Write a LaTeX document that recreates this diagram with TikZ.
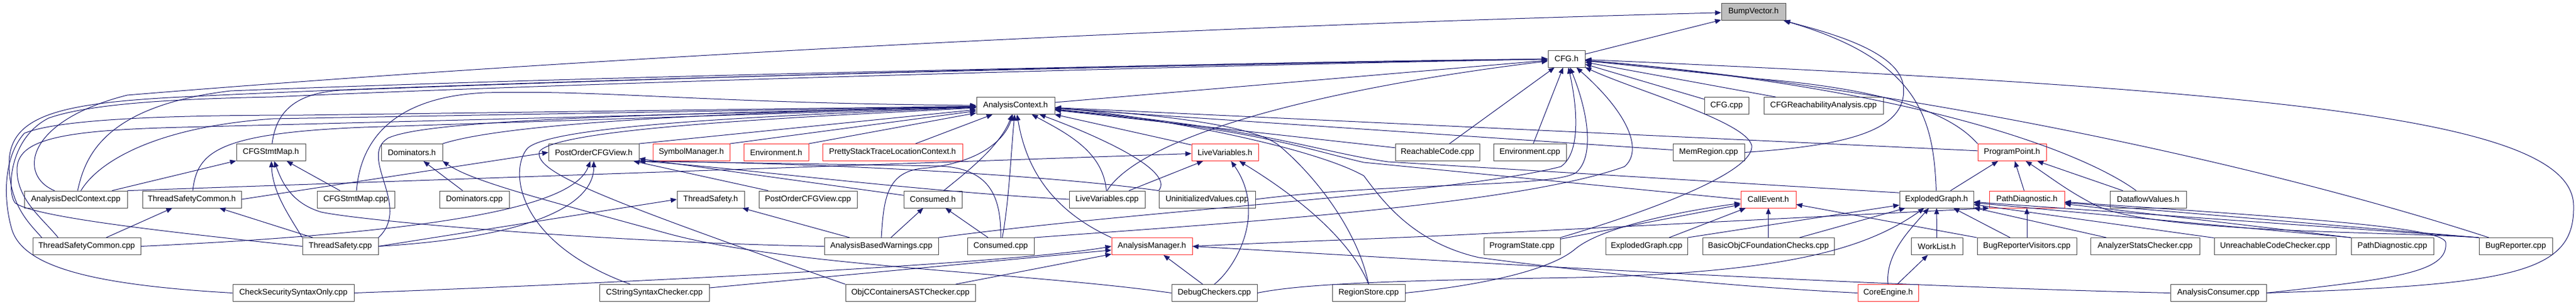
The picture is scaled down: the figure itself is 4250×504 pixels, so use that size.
\documentclass[tikz,border=0pt]{standalone}
\usepackage{fontspec}
\setmainfont{Liberation Sans}
\usetikzlibrary{arrows.meta,shadows}
\definecolor{eblue}{HTML}{191970}
\definecolor{nred}{HTML}{FF2A2A}
\tikzset{
  nb/.style={draw=black!70, fill=white, line width=0.6pt, inner sep=0pt, minimum height=21pt,
    font=\fontsize{10}{12}\selectfont,
    general shadow={fill=black, shadow xshift=0.7pt, shadow yshift=-0.7pt}},
  nr/.style={nb, draw=nred, general shadow={fill=nred!85!black, shadow xshift=0.7pt, shadow yshift=-0.7pt}},
  ng/.style={nb, fill=black!25},
  edg/.style={draw=eblue, line width=0.75pt, -{Triangle[length=7.5pt,width=6pt]}},
}
\newcommand\nd[6]{\node[#1,minimum width={#5*0.75pt}] (#2) at (#3,#4) {#6};}
\begin{document}
\begin{tikzpicture}[x=0.75pt,y=-0.75pt]
\fill[white] (0,0) rectangle (4250,504);
\useasboundingbox (0,0) rectangle (4250,504);
% row 0,1,2
\nd{ng}{bv}{2893}{19.5}{106}{BumpVector.h}
\nd{nb}{cfgh}{2584.5}{97}{61}{CFG.h}
\nd{nb}{ac}{1675.5}{174.5}{129}{AnalysisContext.h}
\nd{nb}{cfgcpp}{2848.5}{174.5}{73}{CFG.cpp}
\nd{nb}{cfgra}{3008.5}{174.5}{197}{CFGReachabilityAnalysis.cpp}
% row 3
\nd{nb}{csmh}{447}{251.5}{114}{CFGStmtMap.h}
\nd{nb}{domh}{679.5}{251.5}{101}{Dominators.h}
\nd{nb}{pocvh}{979.5}{251.5}{149}{PostOrderCFGView.h}
\nd{nr}{symh}{1140.5}{251.5}{127}{SymbolManager.h}
\nd{nr}{envh}{1280.5}{251.5}{107}{Environment.h}
\nd{nr}{pstlc}{1472.5}{251.5}{231}{PrettyStackTraceLocationContext.h}
\nd{nr}{lvh}{2021}{251.5}{110}{LiveVariables.h}
\nd{nb}{rc}{2371.5}{251.5}{139}{ReachableCode.cpp}
\nd{nb}{envcpp}{2524}{251.5}{120}{Environment.cpp}
\nd{nb}{mr}{2819}{251.5}{118}{MemRegion.cpp}
\nd{nr}{pph}{3319.5}{251.5}{113}{ProgramPoint.h}
% row 4
\nd{nb}{adc}{125}{329}{170}{AnalysisDeclContext.cpp}
\nd{nb}{tsch}{316.5}{329}{163}{ThreadSafetyCommon.h}
\nd{nb}{csmcpp}{587}{329}{128}{CFGStmtMap.cpp}
\nd{nb}{domcpp}{782.5}{329}{115}{Dominators.cpp}
\nd{nb}{tsh}{1172.5}{329}{111}{ThreadSafety.h}
\nd{nb}{pocvcpp}{1333}{329}{162}{PostOrderCFGView.cpp}
\nd{nb}{consh}{1539}{329}{96}{Consumed.h}
\nd{nb}{lvcpp}{1826.5}{329}{125}{LiveVariables.cpp}
\nd{nb}{uvcpp}{1991.5}{329}{159}{UninitializedValues.cpp}
\nd{nr}{ceh}{2917.5}{329}{91}{CallEvent.h}
\nd{nb}{egh}{3195}{329}{122}{ExplodedGraph.h}
\nd{nr}{pdh}{3344}{329}{124}{PathDiagnostic.h}
\nd{nb}{dfvh}{3544}{329}{126}{DataflowValues.h}
% row 5
\nd{nb}{tsccpp}{143}{406.5}{178}{ThreadSafetyCommon.cpp}
\nd{nb}{tscpp}{561.5}{406.5}{125}{ThreadSafety.cpp}
\nd{nb}{abw}{1454}{406.5}{188}{AnalysisBasedWarnings.cpp}
\nd{nb}{conscpp}{1651}{406.5}{110}{Consumed.cpp}
\nd{nr}{amh}{1900.5}{406.5}{133}{AnalysisManager.h}
\nd{nb}{pscpp}{2511}{406.5}{126}{ProgramState.cpp}
\nd{nb}{egcpp}{2716.5}{406.5}{135}{ExplodedGraph.cpp}
\nd{nb}{bofc}{2917.5}{406.5}{217}{BasicObjCFoundationChecks.cpp}
\nd{nb}{wlh}{3195.5}{406.5}{85}{WorkList.h}
\nd{nb}{brv}{3344}{406.5}{164}{BugReporterVisitors.cpp}
\nd{nb}{asc}{3539}{406.5}{180}{AnalyzerStatsChecker.cpp}
\nd{nb}{ucc}{3753.5}{406.5}{201}{UnreachableCodeChecker.cpp}
\nd{nb}{pdcpp}{3947}{406.5}{136}{PathDiagnostic.cpp}
\nd{nb}{brcpp}{4150.5}{406.5}{121}{BugReporter.cpp}
% row 6
\nd{nb}{csso}{484}{483.5}{200}{CheckSecuritySyntaxOnly.cpp}
\nd{nb}{cssc}{1079.5}{483.5}{181}{CStringSyntaxChecker.cpp}
\nd{nb}{objc}{1502}{483.5}{214}{ObjCContainersASTChecker.cpp}
\nd{nb}{dbg}{2003.5}{483.5}{141}{DebugCheckers.cpp}
\nd{nb}{rs}{2258}{483.5}{120}{RegionStore.cpp}
\nd{nr}{ceng}{3115}{483.5}{100}{CoreEngine.h}
\nd{nb}{acons}{3660}{483.5}{158}{AnalysisConsumer.cpp}

% ---- BumpVector.h
\draw[edg] (cfgh) -- (bv);
\draw[edg] (adc) .. controls (30,290) and (40,200) .. (210,157) .. controls (900,100) and (1900,45) .. (bv);
\draw[edg] (mr.east) .. controls (3050,240) and (3150,215) .. (3140,140) .. controls (3130,80) and (3000,50) .. (bv);
\draw[edg] (egh) .. controls (3190,200) and (3170,100) .. (bv);
% ---- CFG.h
\draw[edg] (ac) -- (cfgh);
\draw[edg] (adc) .. controls (140,260) and (170,175) .. (380,150) .. controls (1000,125) and (2000,105) .. (cfgh);
\draw[edg] (csmh) .. controls (455,190) and (480,155) .. (560,149) .. controls (1200,125) and (2000,103) .. (cfgh);
\draw[edg] (tsccpp.169) .. controls (50,370) and (15,340) .. (15,270) .. controls (15,190) and (100,170) .. (300,160) .. controls (900,130) and (2000,106) .. (cfgh);
\draw[edg] (tscpp.west) .. controls (300,385) and (60,360) .. (25,335) .. controls (12,320) and (12,230) .. (80,195) .. controls (150,170) and (300,163) .. (450,160) .. controls (1000,135) and (2000,108) .. (cfgh);
\draw[edg] (lvcpp.north) .. controls (1880,230) and (2150,150) .. (cfgh);
\draw[edg] (uvcpp.east) .. controls (2300,300) and (2560,310) .. (2600,285) .. controls (2630,260) and (2622,190) .. (cfgh);
\draw[edg] (abw.north east) .. controls (1900,345) and (2400,320) .. (2575,275) .. controls (2605,255) and (2605,190) .. (cfgh);
\draw[edg] (conscpp.north east) .. controls (2000,370) and (2500,340) .. (2680,275) .. controls (2710,250) and (2690,190) .. (cfgh);
\draw[edg] (pscpp.north east) .. controls (2750,340) and (2895,280) .. (2890,240) .. controls (2880,200) and (2700,150) .. (cfgh);
\draw[edg] (rc) -- (cfgh);
\draw[edg] (envcpp) -- (cfgh);
\draw[edg] (cfgcpp) -- (cfgh);
\draw[edg] (cfgra) -- (cfgh);
\draw[edg] (pph.north west) .. controls (3230,200) and (3150,150) .. (2900,130) -- (cfgh);
\draw[edg] (dfvh) .. controls (3450,260) and (3200,150) .. (cfgh);
\draw[edg] (brcpp) .. controls (3700,260) and (3100,140) .. (cfgh);
\draw[edg] (acons.east) .. controls (4150,470) and (4248,450) .. (4246,340) .. controls (4245,200) and (3800,150) .. (cfgh);
% ---- AnalysisContext.h
\draw[edg] (adc) .. controls (160,270) and (250,210) .. (450,196) -- (ac);
\draw[edg] (tsch) .. controls (325,250) and (360,220) .. (600,210) -- (ac);
\draw[edg] (tsccpp.163) .. controls (70,360) and (28,330) .. (28,280) .. controls (28,230) and (100,215) .. (300,210) -- (ac);
\draw[edg] (tscpp.north east) .. controls (680,340) and (590,260) .. (640,228) .. controls (700,200) and (1000,190) .. (ac);
\draw[edg] (csso.west) .. controls (150,470) and (40,440) .. (20,380) .. controls (5,330) and (5,260) .. (40,220) .. controls (100,195) and (300,190) .. (500,190) -- (ac);
\draw[edg] (csmcpp) .. controls (595,230) and (650,160) .. (800,153) .. controls (1000,148) and (1150,170) .. (ac);
\draw[edg] (domh.north east) .. controls (800,215) and (1000,190) .. (ac);
\draw[edg] (pocvh.north east) -- (ac);
\draw[edg] (symh.north east) -- (ac);
\draw[edg] (envh.north east) -- (ac);
\draw[edg] (pstlc) -- (ac);
\draw[edg] (cssc) .. controls (850,400) and (840,280) .. (870,245) .. controls (910,205) and (1300,190) .. (ac);
\draw[edg] (objc.north west) .. controls (1000,330) and (880,285) .. (890,250) .. controls (920,210) and (1350,192) .. (ac);
\draw[edg] (consh) .. controls (1600,280) and (1650,240) .. (ac);
\draw[edg] (conscpp) .. controls (1665,330) and (1668,250) .. (ac);
\draw[edg] (abw.north) .. controls (1458,330) and (1462,285) .. (1520,278) .. controls (1600,272) and (1655,240) .. (ac);
\draw[edg] (amh.north west) .. controls (1720,340) and (1690,260) .. (ac);
\draw[edg] (lvcpp) .. controls (1820,250) and (1760,220) .. (ac);
\draw[edg] (uvcpp.north west) .. controls (1940,280) and (1800,220) .. (ac);
\draw[edg] (lvh) -- (ac);
\draw[edg] (rc) -- (ac);
\draw[edg] (mr) -- (ac);
\draw[edg] (pph) -- (ac);
\draw[edg] (ceh.west) -- (2250,268) .. controls (2150,245) and (2080,215) .. (ac);
\draw[edg] (egh.170) -- (2290,267) .. controls (2170,250) and (2090,212) .. (ac);
\draw[edg] (rs.north) .. controls (2240,380) and (2170,290) .. (2110,240) .. controls (2060,200) and (1850,185) .. (ac);
\draw[edg] (ceng.west) .. controls (2800,470) and (2550,440) .. (2440,425) .. controls (2330,400) and (2280,330) .. (2250,290) .. controls (2150,235) and (1850,185) .. (ac);
% ---- LiveVariables.h
\draw[edg] (adc.north east) -- (lvh);
\draw[edg] (lvcpp) -- (lvh);
\draw[edg] (dbg.north) .. controls (2040,440) and (2090,350) .. (lvh);
\draw[edg] (rs.north) .. controls (2230,400) and (2150,330) .. (lvh);
% ---- CFGStmtMap.h
\draw[edg] (adc) -- (csmh);
\draw[edg] (csmcpp) -- (csmh);
\draw[edg] (tscpp.north west) .. controls (480,360) and (450,320) .. (csmh);
\draw[edg] (abw.west) .. controls (1000,400) and (600,365) .. (530,350) .. controls (480,335) and (465,300) .. (csmh);
% ---- ThreadSafetyCommon.h
\draw[edg] (tsccpp) -- (tsch);
\draw[edg] (tscpp) -- (tsch);
% ---- PostOrderCFGView.h
\draw[edg] (tsch.east) -- (pocvh.west);
\draw[edg] (tsccpp.east) .. controls (800,380) and (950,330) .. (pocvh);
\draw[edg] (tscpp.east) .. controls (900,390) and (980,330) .. (pocvh);
\draw[edg] (pocvcpp) -- (pocvh);
\draw[edg] (consh) -- (pocvh);
\draw[edg] (conscpp.north) .. controls (1652,320) and (1630,278) .. (1550,274) -- (pocvh.south east);
\draw[edg] (lvcpp.west) .. controls (1500,315) and (1200,275) .. (pocvh.south east);
\draw[edg] (uvcpp.north west) .. controls (1700,285) and (1300,268) .. (pocvh.south east);
% ---- Dominators.h
\draw[edg] (domcpp) -- (domh);
\draw[edg] (dbg.west) .. controls (1700,450) and (1300,440) .. (1100,385) .. controls (900,330) and (780,300) .. (domh.south east);
% ---- ThreadSafety.h / Consumed.h
\draw[edg] (tscpp.east) -- (tsh.west);
\draw[edg] (abw) -- (tsh);
\draw[edg] (abw) -- (consh);
\draw[edg] (conscpp) -- (consh);
% ---- AnalysisManager.h
\draw[edg] (csso.east) .. controls (1200,460) and (1700,430) .. (amh.west);
\draw[edg] (cssc) -- (amh);
\draw[edg] (objc) -- (amh);
\draw[edg] (dbg) -- (amh);
\draw[edg] (acons.west) .. controls (3000,470) and (2300,425) .. (amh.east);
% ---- CallEvent.h
\draw[edg] (pscpp) -- (ceh);
\draw[edg] (egcpp) -- (ceh);
\draw[edg] (bofc) -- (ceh);
\draw[edg] (rs.east) .. controls (2450,470) and (2560,445) .. (2600,410) .. controls (2650,370) and (2800,345) .. (ceh);
\draw[edg] (brv.north west) -- (ceh);
% ---- ExplodedGraph.h
\draw[edg] (egcpp.north east) -- (egh);
\draw[edg] (bofc) -- (egh);
\draw[edg] (wlh) -- (egh);
\draw[edg] (ceng.north) .. controls (3110,420) and (3150,380) .. (egh);
\draw[edg] (brv) -- (egh);
\draw[edg] (asc) -- (egh);
\draw[edg] (ucc) -- (egh);
\draw[edg] (pdcpp.north west) -- (egh);
\draw[edg] (brcpp.north west) -- (egh);
\draw[edg] (dbg.east) .. controls (2150,468) and (2300,463) .. (2600,458) .. controls (2950,450) and (3080,410) .. (egh);
% ---- PathDiagnostic.h
\draw[edg] (pdcpp.north west) -- (pdh);
\draw[edg] (brv) -- (pdh);
\draw[edg] (brcpp.north west) -- (pdh);
\draw[edg] (acons.east) .. controls (3950,460) and (4040,450) .. (4035,400) .. controls (4030,375) and (3800,360) .. (pdh);
\draw[edg] (amh.east) .. controls (2100,400) and (2250,395) .. (2400,388) -- (pdh.south west);
% ---- ProgramPoint.h
\draw[edg] (egh) -- (pph);
\draw[edg] (pdh) -- (pph);
\draw[edg] (dfvh) -- (pph);
\draw[edg] (brcpp.north west) .. controls (3950,382) and (3560,385) .. (3460,340) .. controls (3410,315) and (3380,290) .. (pph);
% ---- WorkList.h
\draw[edg] (ceng) -- (wlh);
\end{tikzpicture}
\end{document}
